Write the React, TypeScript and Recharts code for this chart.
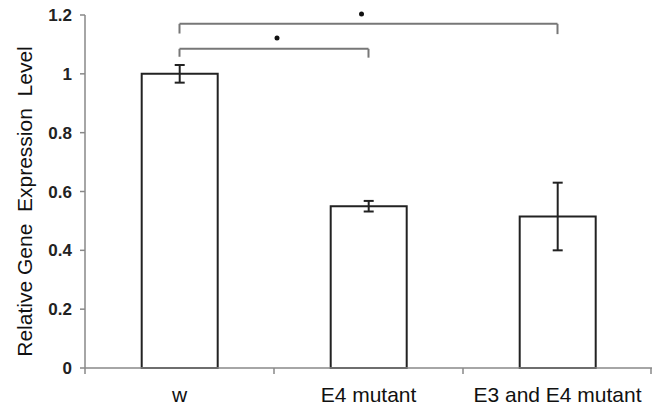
import { Bar, BarChart, ErrorBar, ReferenceLine, XAxis, YAxis } from 'recharts';

const groups = ['w', 'E4 mutant', 'E3 and E4 mutant'];
const expression = [1.0, 0.55, 0.515];
const errors = [0.03, 0.018, 0.115];
const yTicks = [0, 0.2, 0.4, 0.6, 0.8, 1, 1.2];

// significance brackets between group centres, y in data units
const brackets = [
    { from: 'w', to: 'E4 mutant', y: 1.085, leftEnd: 1.058, rightEnd: 1.055, dotY: 1.122, dotShift: 3 },
    { from: 'w', to: 'E3 and E4 mutant', y: 1.17, leftEnd: 1.137, rightEnd: 1.135, dotY: 1.203, dotShift: -7 },
];

const font = '"Liberation Sans", Arial, sans-serif';
const gray = '#888';

// category axis with tick marks on the group boundaries (Excel style)
function BoundaryTick(props) {
    const { x, y, payload, index, visibleTicksCount } = props;
    const half = payload.offset || 0;
    const isLast = index === visibleTicksCount - 1;
    return (
        <g>
            <line x1={x - half} y1={y - 19} x2={x - half} y2={y - 13} stroke={gray} strokeWidth={1.5} />
            {isLast && <line x1={x + half - 1} y1={y - 19} x2={x + half - 1} y2={y - 13} stroke={gray} strokeWidth={1.5} />}
            <text x={x} y={y} dy="0.71em" textAnchor="middle" fontSize={21} fill="#111" fontFamily={font}>
                {payload.value}
            </text>
        </g>
    );
}

export default function App() {
    const data = groups.map((name, i) => ({ name, value: expression[i], err: errors[i] }));

    return (
        <div style={{ position: 'absolute', left: 0, top: 0, background: '#fff' }}>
            <BarChart
                width={652}
                height={408}
                data={data}
                margin={{ top: 15, right: 0, left: 0, bottom: 0 }}
                barCategoryGap="30%"
            >
                <XAxis
                    dataKey="name"
                    tickLine={false}
                    tickSize={0}
                    tickMargin={19}
                    height={40}
                    stroke={gray}
                    strokeWidth={1.5}
                    interval={0}
                    tick={<BoundaryTick />}
                />
                <YAxis
                    width={85}
                    domain={[0, 1.2]}
                    ticks={yTicks}
                    tickSize={5}
                    tickMargin={8}
                    stroke={gray}
                    strokeWidth={1.5}
                    tick={{ fontSize: 17, fill: '#222', fontFamily: font, fontWeight: 'bold' }}
                    label={({ viewBox }) => (
                        <text
                            x={32}
                            y={viewBox.y + viewBox.height / 2 + 10}
                            transform={`rotate(-90 32 ${viewBox.y + viewBox.height / 2 + 10})`}
                            textAnchor="middle"
                            fontSize={21}
                            fill="#111"
                            fontFamily={font}
                            style={{ whiteSpace: 'pre' }}
                        >
                            {'Relative Gene  Expression  Level'}
                        </text>
                    )}
                />
                <Bar dataKey="value" fill="#fff" stroke="#222" strokeWidth={2} isAnimationActive={false}>
                    <ErrorBar dataKey="err" width={5} stroke="#222" strokeWidth={2} direction="y" />
                </Bar>
                {brackets.map((b, i) => (
                    <ReferenceLine
                        key={`h${i}`}
                        segment={[{ x: b.from, y: b.y }, { x: b.to, y: b.y }]}
                        stroke="#777"
                        strokeWidth={2}
                        ifOverflow="visible"
                        label={({ viewBox }) => {
                            const cx = viewBox.x + viewBox.width / 2 + b.dotShift;
                            const rise = ((b.dotY - b.y) / 1.2) * 353;
                            return <circle cx={cx} cy={viewBox.y - rise} r={2.5} fill="#111" />;
                        }}
                    />
                ))}
                {brackets.map((b, i) => (
                    <ReferenceLine
                        key={`l${i}`}
                        segment={[{ x: b.from, y: b.y }, { x: b.from, y: b.leftEnd }]}
                        stroke="#777"
                        strokeWidth={2}
                        ifOverflow="visible"
                    />
                ))}
                {brackets.map((b, i) => (
                    <ReferenceLine
                        key={`r${i}`}
                        segment={[{ x: b.to, y: b.y }, { x: b.to, y: b.rightEnd }]}
                        stroke="#777"
                        strokeWidth={2}
                        ifOverflow="visible"
                    />
                ))}
            </BarChart>
        </div>
    );
}
